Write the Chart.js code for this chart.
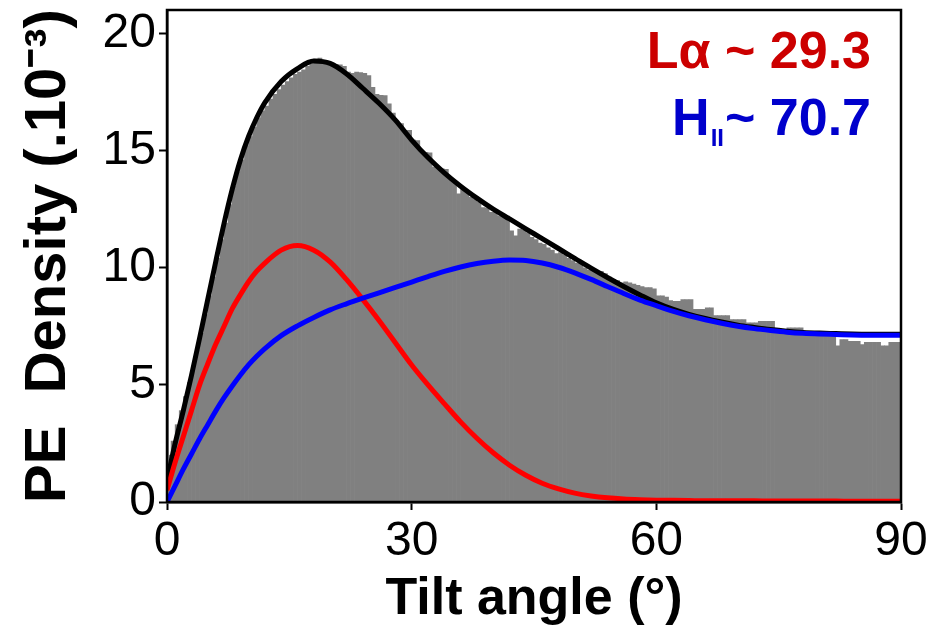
<!DOCTYPE html>
<html>
<head>
<meta charset="utf-8">
<script src="https://cdn.jsdelivr.net/npm/chart.js@4.4.1/dist/chart.umd.min.js"></script>
<style>
  html, body { margin: 0; padding: 0; background: #fff; }
  canvas { display: block; }
</style>
</head>
<body>
<canvas id="c" width="933" height="628"></canvas>
<script>
// ---- data ----
const binWidth = 0.5; // degrees per histogram bin
const histValues = [
  2.0, 2.6, 3.3, 3.9, 4.5, 5.1, 5.8, 6.5, 7.2, 8.0, 8.8, 9.6,
  10.4, 11.2, 11.9, 12.7, 13.5, 14.1, 14.6, 15.2, 15.6, 16.0, 16.4, 16.7,
  16.9, 17.2, 17.4, 17.6, 17.8, 17.95, 18.1, 18.25, 18.35, 18.45, 18.6, 18.7,
  18.9, 18.95, 18.85, 18.8, 18.7, 18.68, 18.66, 18.6, 18.35, 18.3, 18.35, 18.33,
  18.3, 18.2, 17.7, 17.4, 17.36, 17.35, 17.0, 16.6,
  16.15, 16.15, 15.86, 15.86, 15.45, 15.43, 14.95, 14.93,
  14.9, 14.3, 14.29, 14.22, 14.2, 13.8, 13.6, 13.15,
  13.4, 13.2, 13.0, 12.93, 12.8, 12.57, 12.55, 12.36,
  12.36, 12.21, 12.2, 12.2, 11.57, 11.36, 11.65, 11.6,
  11.5, 11.3, 11.2, 11.05, 11.0, 10.85, 10.75, 10.6,
  10.65, 10.55, 10.4, 10.3, 10.2, 10.15, 10.0, 9.9,
  9.95, 9.85, 9.85, 9.75, 9.6, 9.5, 9.45, 9.35,
  9.4, 9.35, 9.3, 9.25, 9.2, 9.15, 9.15, 9.1,
  8.8, 8.8, 8.75, 8.6, 8.57, 8.57, 8.64, 8.64,
  8.64, 8.22, 8.22, 8.22, 8.29, 8.29, 7.96, 7.96,
  7.96, 7.96, 7.79, 7.79, 7.79, 7.79, 7.65, 7.65,
  7.65, 7.71, 7.71, 7.71, 7.71, 7.36, 7.36, 7.36,
  7.43, 7.43, 7.43, 7.43, 7.22, 7.22, 7.22, 7.22,
  7.22, 7.22, 7.22, 7.22, 6.67, 6.93, 6.93, 6.86,
  6.86, 6.86, 6.72, 6.82, 6.82, 6.82, 6.82, 6.67,
  6.67, 6.82, 6.82, 6.82
];
const curveAngles = [0,1,2,3,4,5,6,7,8,9,10,11,12,14,16,18,20,22,24,26,28,30,32,34,36,38,40,42,44,46,48,50,52,54,56,58,60,62,64,66,68,70,72,74,76,78,80,82,84,86,88,90];
const totalFit = [0.9,2.5,3.9,5.4,7.0,8.65,10.3,11.9,13.35,14.6,15.6,16.4,17.05,17.95,18.5,18.82,18.72,18.28,17.66,17.02,16.3,15.45,14.7,14.05,13.48,12.97,12.5,12.08,11.66,11.24,10.82,10.4,9.98,9.58,9.2,8.84,8.5,8.23,8.01,7.83,7.68,7.55,7.45,7.36,7.29,7.24,7.21,7.19,7.17,7.16,7.16,7.16];
const laFit = [0.5,1.7,2.8,3.9,5.0,5.9,6.75,7.5,8.25,8.85,9.4,9.85,10.2,10.75,10.95,10.75,10.25,9.5,8.65,7.75,6.8,5.85,5.0,4.2,3.42,2.72,2.1,1.57,1.14,0.8,0.56,0.38,0.26,0.18,0.13,0.1,0.08,0.07,0.06,0.05,0.05,0.05,0.05,0.04,0.04,0.04,0.04,0.04,0.03,0.03,0.03,0.03];
const hiiFit = [0,0.7,1.4,2.05,2.7,3.3,3.9,4.45,4.95,5.42,5.85,6.22,6.55,7.1,7.52,7.88,8.2,8.46,8.7,8.93,9.16,9.39,9.62,9.84,10.03,10.18,10.28,10.33,10.31,10.2,10.02,9.78,9.5,9.2,8.9,8.62,8.38,8.15,7.95,7.78,7.63,7.5,7.4,7.32,7.25,7.2,7.17,7.15,7.13,7.12,7.12,7.12];
const xTicks = [0, 30, 60, 90];
const yTicks = [0, 5, 10, 15, 20];
const labelLa = 'Lα ~ 29.3';
const labelH = 'H';
const labelHsub = 'II';
const labelHval = '~ 70.7';
// --------------------------------------

const FONT = "'Liberation Sans', Arial, sans-serif";
const toPts = (xs, ys) => xs.map((x, i) => ({ x: x, y: ys[i] }));

const overlay = {
  id: 'overlay',
  afterDatasetsDraw(chart) {
    const { ctx, chartArea: a } = chart;
    ctx.save();
    ctx.strokeStyle = '#000';
    ctx.lineWidth = 2.5;
    ctx.strokeRect(a.left, a.top, a.right - a.left, a.bottom - a.top);
    const xr = a.right - 30;
    ctx.textAlign = 'right';
    ctx.textBaseline = 'alphabetic';
    ctx.font = 'bold 52px ' + FONT;
    ctx.fillStyle = '#cc0000';
    ctx.fillText(labelLa, xr, a.top + 58);
    ctx.fillStyle = '#0000cc';
    ctx.fillText(labelHval, xr, a.top + 125);
    const w1 = ctx.measureText(labelHval).width;
    ctx.font = 'bold 24px ' + FONT;
    ctx.fillText(labelHsub, xr - w1 - 1, a.top + 136);
    const w2 = ctx.measureText(labelHsub).width;
    ctx.font = 'bold 52px ' + FONT;
    ctx.fillText(labelH, xr - w1 - w2 - 2, a.top + 125);
    ctx.restore();
  }
};

const noPad = s => { s.paddingTop = 0; s.paddingBottom = 0; s.paddingLeft = 0; s.paddingRight = 0; };

new Chart(document.getElementById('c'), {
  type: 'bar',
  data: {
    datasets: [
      {
        type: 'line', label: 'HII', data: toPts(curveAngles, hiiFit),
        borderColor: '#0000ff', borderWidth: 5, pointRadius: 0, fill: false,
        cubicInterpolationMode: 'monotone', order: 0
      },
      {
        type: 'line', label: 'La', data: toPts(curveAngles, laFit),
        borderColor: '#ff0000', borderWidth: 5, pointRadius: 0, fill: false,
        cubicInterpolationMode: 'monotone', order: 1
      },
      {
        type: 'line', label: 'total', data: toPts(curveAngles, totalFit),
        borderColor: '#000000', borderWidth: 5, pointRadius: 0, fill: false,
        cubicInterpolationMode: 'monotone', order: 2
      },
      {
        type: 'bar', label: 'hist',
        data: histValues.map((v, i) => ({ x: (i + 0.5) * binWidth, y: v })),
        backgroundColor: '#808080', borderWidth: 0,
        barPercentage: 1, categoryPercentage: 1, grouped: false, order: 3
      }
    ]
  },
  options: {
    responsive: false,
    devicePixelRatio: 1,
    animation: false,
    layout: { padding: { left: 0, right: 32, top: 10, bottom: 0 } },
    plugins: { legend: { display: false }, tooltip: { enabled: false } },
    scales: {
      x: {
        type: 'linear', min: 0, max: 90, offset: false,
        afterFit: s => { s.height = 126; noPad(s); },
        afterBuildTicks: s => { s.ticks = xTicks.map(v => ({ value: v })); },
        grid: { display: true, offset: false, drawOnChartArea: false, drawTicks: true, tickLength: 8, tickColor: '#000', tickWidth: 2 },
        border: { display: true, color: '#000', width: 2.5 },
        ticks: { color: '#000', font: { family: FONT, size: 48 }, padding: 3, maxRotation: 0 },
        title: { display: true, text: 'Tilt angle (°)', color: '#000', font: { family: FONT, size: 52, weight: 'bold', lineHeight: 1.0 }, padding: { top: 0, bottom: 2 } }
      },
      y: {
        type: 'linear', min: 0, max: 21,
        afterFit: s => { s.width = 167; noPad(s); },
        afterBuildTicks: s => { s.ticks = yTicks.map(v => ({ value: v })); },
        grid: { display: true, offset: false, drawOnChartArea: false, drawTicks: true, tickLength: 8, tickColor: '#000', tickWidth: 2 },
        border: { display: true, color: '#000', width: 2.5 },
        ticks: { color: '#000', font: { family: FONT, size: 48 }, padding: 3 },
        title: { display: true, text: 'PE  Density (.10⁻³)', color: '#000', font: { family: FONT, size: 58, weight: 'bold' }, padding: { top: 14, bottom: 0 } }
      }
    }
  },
  plugins: [overlay]
});
</script>
</body>
</html>
